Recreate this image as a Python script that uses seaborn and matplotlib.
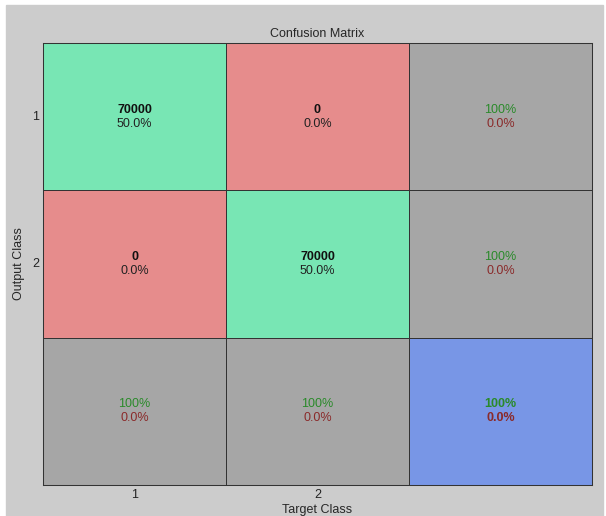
import numpy as np
import pandas as pd
import matplotlib
matplotlib.use("Agg")
import matplotlib.pyplot as plt
from matplotlib.colors import ListedColormap
from matplotlib.patches import Rectangle
import seaborn as sns

# confusion counts (rows = output class, cols = target class)
class_labels = ["1", "2"]
counts = [[70000, 0],
          [0, 70000]]
title = "Confusion Matrix"
xlabel = "Target Class"
ylabel = "Output Class"

sns.set_theme(style="white")
plt.rcParams["font.family"] = ["Liberation Sans", "DejaVu Sans"]
plt.rcParams["font.size"] = 9

cm = np.array(counts)
n = cm.shape[0]
total = cm.sum()

# colour code per cell: 0 correct, 1 wrong, 2 summary, 3 overall
codes = np.full((n + 1, n + 1), 2)
for i in range(n):
    for j in range(n):
        codes[i, j] = 0 if i == j else 1
codes[n, n] = 3
cmap = ListedColormap(["#78e6b4", "#e68c8c", "#a6a6a6", "#7896e6"])

fig = plt.figure(figsize=(6.06, 5.16), dpi=100)
fig.patch.set_facecolor("white")
fig.patches.append(Rectangle((6 / 606, 0), 597 / 606, 511 / 516,
                             transform=fig.transFigure, color="#cccccc", zorder=-10))
ax = fig.add_axes([43 / 606, 1 - 485 / 516, 549 / 606, 442 / 516])

sns.heatmap(pd.DataFrame(codes), cmap=cmap, vmin=-0.5, vmax=3.5, cbar=False,
            linewidths=0.6, linecolor="#333333", ax=ax)

green_txt = "#2a8a2a"
red_txt = "#8a2a2a"
dy = 0.048

for i in range(n + 1):
    for j in range(n + 1):
        cx, cy = j + 0.5, i + 0.5
        if i < n and j < n:
            ax.text(cx, cy - dy, f"{cm[i, j]}", ha="center", va="center",
                    fontweight="bold", color="#111111")
            ax.text(cx, cy + dy, f"{100 * cm[i, j] / total:.1f}%", ha="center",
                    va="center", color="#222222")
        else:
            if i < n and j == n:
                good = cm[i, i] / cm[i].sum()
            elif i == n and j < n:
                good = cm[j, j] / cm[:, j].sum()
            else:
                good = np.trace(cm) / total
            bad = 1 - good
            w = "bold" if (i == n and j == n) else "normal"
            ax.text(cx, cy - dy, f"{100 * good:.0f}%", ha="center", va="center",
                    color=green_txt, fontweight=w)
            ax.text(cx, cy + dy, f"{100 * bad:.1f}%", ha="center", va="center",
                    color=red_txt, fontweight=w)

ax.set_xticks(np.arange(n) + 0.5)
ax.set_xticklabels(class_labels, rotation=0)
ax.set_yticks(np.arange(n) + 0.5)
ax.set_yticklabels(class_labels, rotation=0)
ax.tick_params(length=0, pad=3, labelsize=9, colors="#222222")
ax.set_xlabel(xlabel, labelpad=2, fontsize=9)
ax.set_ylabel(ylabel, labelpad=5, fontsize=9)
ax.set_title(title, fontsize=9, pad=4)
for s in ax.spines.values():
    s.set_visible(True)
    s.set_color("#333333")
    s.set_linewidth(0.75)

fig.savefig("out.png", dpi=100, facecolor=fig.get_facecolor())
